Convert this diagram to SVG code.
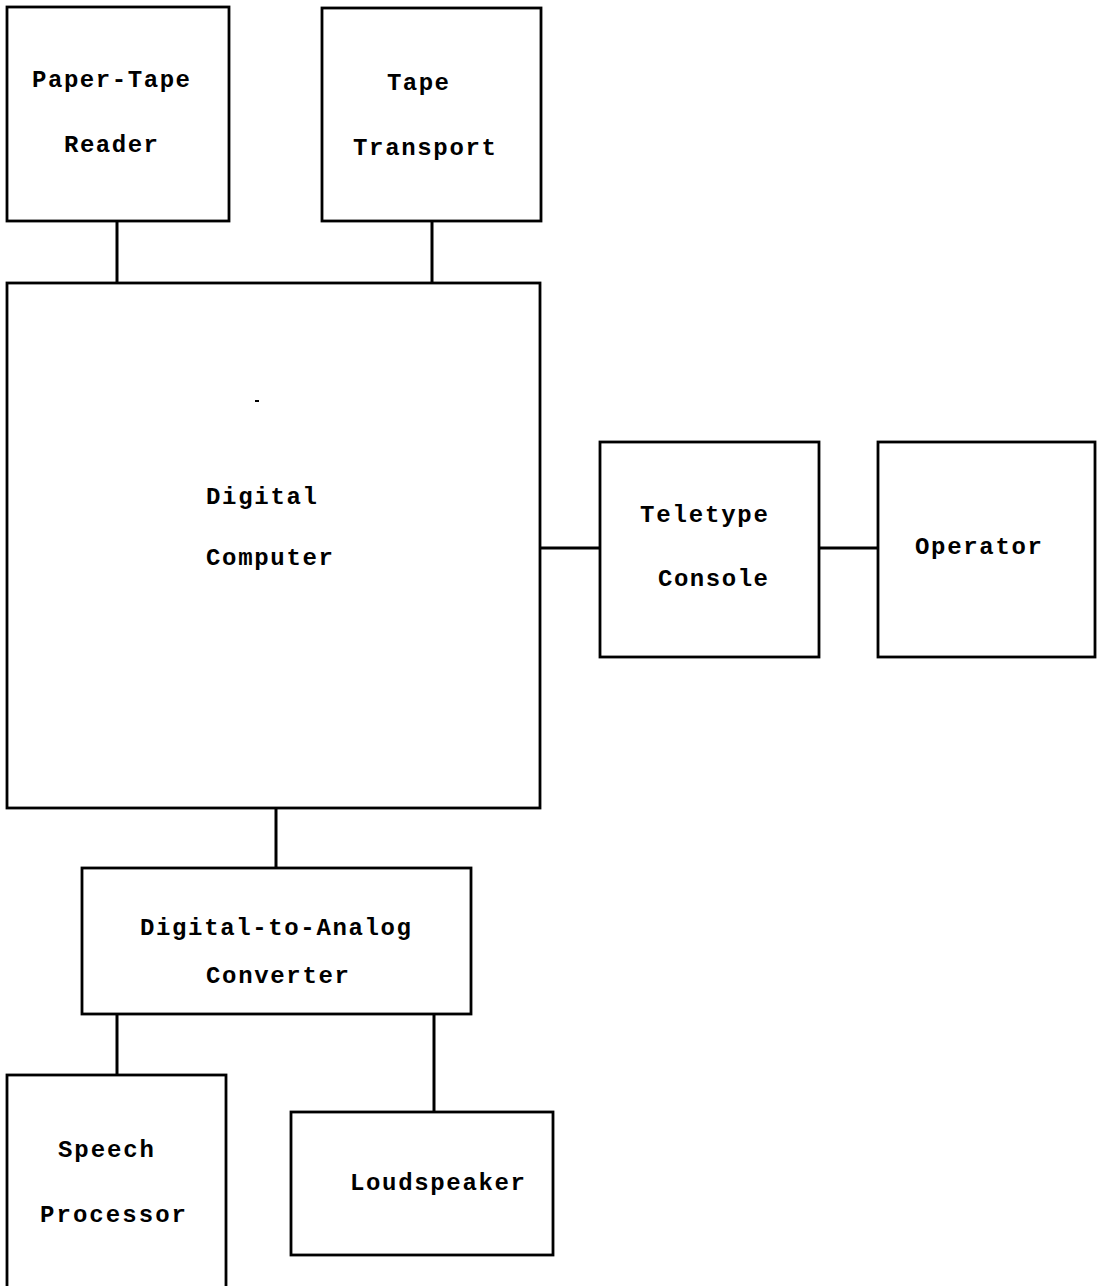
<svg xmlns="http://www.w3.org/2000/svg" width="1098" height="1286" viewBox="0 0 1098 1286">
<style>
.box{fill:#fff;stroke:#000;stroke-width:2.8}
.lbl{font-family:"Liberation Mono","DejaVu Sans Mono",monospace;font-size:24px;font-weight:bold;fill:#000}
.conn line{stroke:#000;stroke-width:3}
</style>
<rect width="1098" height="1286" fill="#fff"/>
<g class="conn" id="connectors">
<line x1="117" y1="221" x2="117" y2="283"/>
<line x1="432" y1="221" x2="432" y2="283"/>
<line x1="540" y1="548" x2="600" y2="548"/>
<line x1="819" y1="548" x2="878" y2="548"/>
<line x1="276" y1="808" x2="276" y2="868"/>
<line x1="117" y1="1014" x2="117" y2="1075"/>
<line x1="434" y1="1014" x2="434" y2="1112"/>
</g>
<g id="paper-tape-reader">
<rect class="box" x="7" y="7" width="222" height="214"/>
<text class="lbl" x="32" y="87" textLength="158" lengthAdjust="spacing">Paper-Tape</text>
<text class="lbl" x="64" y="152" textLength="94" lengthAdjust="spacing">Reader</text>
</g>
<g id="tape-transport">
<rect class="box" x="322" y="8" width="219" height="213"/>
<text class="lbl" x="387" y="90" textLength="62" lengthAdjust="spacing">Tape</text>
<text class="lbl" x="353" y="155" textLength="143" lengthAdjust="spacing">Transport</text>
</g>
<g id="digital-computer">
<rect class="box" x="7" y="283" width="533" height="525"/>
<text class="lbl" x="206" y="504" textLength="111" lengthAdjust="spacing">Digital</text>
<text class="lbl" x="206" y="565" textLength="127" lengthAdjust="spacing">Computer</text>
<rect x="255" y="400" width="4" height="2" fill="#000"/>
</g>
<g id="teletype-console">
<rect class="box" x="600" y="442" width="219" height="215"/>
<text class="lbl" x="640" y="522" textLength="128" lengthAdjust="spacing">Teletype</text>
<text class="lbl" x="658" y="586" textLength="110" lengthAdjust="spacing">Console</text>
</g>
<g id="operator">
<rect class="box" x="878" y="442" width="217" height="215"/>
<text class="lbl" x="915" y="554" textLength="127" lengthAdjust="spacing">Operator</text>
</g>
<g id="dac">
<rect class="box" x="82" y="868" width="389" height="146"/>
<text class="lbl" x="140" y="935" textLength="271" lengthAdjust="spacing">Digital-to-Analog</text>
<text class="lbl" x="206" y="983" textLength="143" lengthAdjust="spacing">Converter</text>
</g>
<g id="speech-processor">
<rect class="box" x="7" y="1075" width="219" height="230"/>
<text class="lbl" x="58" y="1157" textLength="96" lengthAdjust="spacing">Speech</text>
<text class="lbl" x="40" y="1222" textLength="146" lengthAdjust="spacing">Processor</text>
</g>
<g id="loudspeaker">
<rect class="box" x="291" y="1112" width="262" height="143"/>
<text class="lbl" x="350" y="1190" textLength="175" lengthAdjust="spacing">Loudspeaker</text>
</g>
</svg>
